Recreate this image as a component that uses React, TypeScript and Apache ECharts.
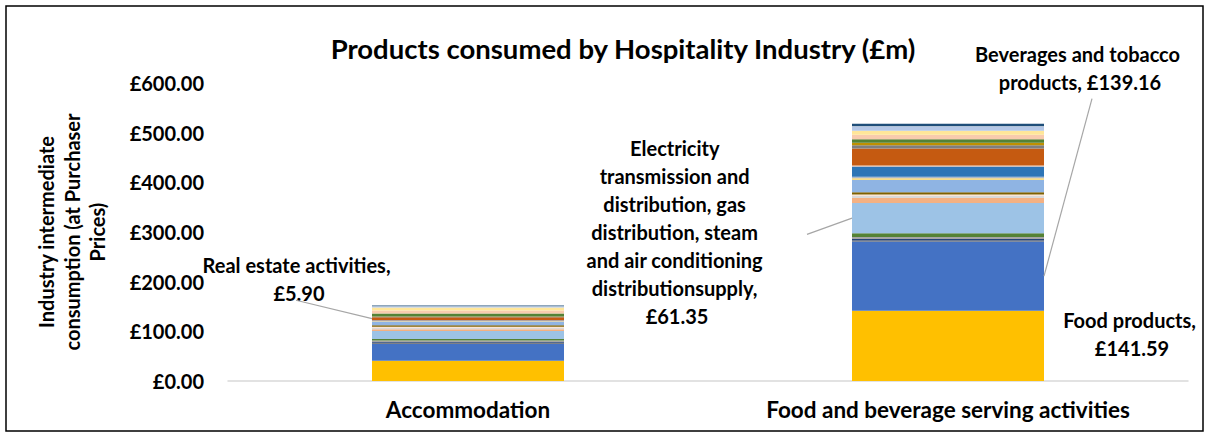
import React, { useEffect, useRef } from "react";
import * as echarts from "echarts";

const chartTitle = "Products consumed by Hospitality Industry (£m)";
const yAxisTitle = "Industry intermediate\nconsumption (at Purchaser\nPrices)";
const categories = ["Accommodation", "Food and beverage serving activities"];

const yMin = 0;
const yMax = 600;
const yInterval = 100;

// Products, listed from the bottom of the stack upwards
const productNames = [
  "Food products",
  "Beverages and tobacco products",
  "Paper and paper products",
  "Printing and recording services",
  "Chemicals and chemical products",
  "Other manufactured goods",
  "Electricity transmission and distribution, gas distribution, steam and air conditioning distributionsupply",
  "Water, sewerage and waste management services",
  "Construction",
  "Wholesale trade services",
  "Retail trade services",
  "Land transport services",
  "Warehousing and support services",
  "Telecommunications services",
  "Financial services",
  "Insurance services",
  "Real estate activities",
  "Legal and accounting services",
  "Advertising and market research services",
  "Rental and leasing services",
  "Employment services",
  "Security and investigation services",
  "Services to buildings and landscape",
  "Office administrative services",
  "Repair of computers and household goods",
];

const accommodationValues = [
  40.6, 34.4, 2, 1.5, 2.9, 3.2, 16, 3.4, 2.6, 2.6, 2.8, 6.8, 1, 1, 1.2, 0.5,
  5.9, 0.8, 0.6, 6, 6, 6, 2, 0.5, 1.5,
];

const foodServiceValues = [
  141.59, 139.16, 2, 3, 4, 7.5, 61.35, 10, 4, 3, 4.5, 25, 3, 3, 21, 2, 34, 6.6,
  4.8, 7, 9.4, 8, 8, 1, 5,
];

const productColors = [
  "#FFC000", "#4472C4", "#636363", "#264478", "#A5A5A5", "#548235", "#9DC3E6",
  "#F4B183", "#D9D9D9", "#FBE5D6", "#7F6000", "#8FB4E3", "#FFD966", "#ADB9CA",
  "#2E75B6", "#F8CBAD", "#C55A11", "#7F7F7F", "#BF9000", "#548235", "#F8CBAD",
  "#FFE699", "#B4C7E7", "#DAE3F3", "#1F4E79",
];

// Which data points carry a data label (product name + category index)
const labelledPoints = [
  { product: "Real estate activities", category: 0 },
  { product: "Electricity transmission and distribution, gas distribution, steam and air conditioning distributionsupply", category: 1 },
  { product: "Beverages and tobacco products", category: 1 },
  { product: "Food products", category: 1 },
];

// Layout of those labels relative to their bar segment (style, not data)
const labelPlacement: Record<string, any> = {
  "Real estate activities|0": {
    side: "left", dx: -73, dy: -38, width: 200, line: { fromX: -3, fromY: 21, to: "left" },
  },
  "Electricity transmission and distribution, gas distribution, steam and air conditioning distributionsupply|1": {
    side: "left", dx: -175, dy: -1, fromBottom: true, width: 200, line: { fromX: 130, fromY: 2, to: "left" },
  },
  "Beverages and tobacco products|1": {
    side: "right", dx: 36, dy: -174, width: 220, line: { fromX: 12, fromY: 31, to: "right" },
  },
  "Food products|1": { side: "right", dx: 88, dy: 23, width: 170, line: null },
};

const FONT = "Lato, 'Open Sans', sans-serif";
const BAR_FRACTION = 0.4;

function labelCenter(pl: any, r: { x: number; y: number; width: number; height: number }) {
  const x = pl.side === "left" ? r.x + pl.dx : r.x + r.width + pl.dx;
  const y = pl.fromBottom ? r.y + r.height + pl.dy : r.y + pl.dy;
  return [x, y];
}

export default function App() {
  const ref = useRef<HTMLDivElement>(null);

  useEffect(() => {
    document.body.style.margin = "0";
    if (!ref.current) return;
    const chart = echarts.init(ref.current, undefined, { renderer: "svg" });

    const series = productNames.map((name, si) => {
      const vals = [accommodationValues[si], foodServiceValues[si]];
      const data = vals.map((v, ci) => {
        const isLabelled = labelledPoints.some((p) => p.product === name && p.category === ci);
        if (!isLabelled) return v;
        const pl = labelPlacement[name + "|" + ci];
        return {
          value: v,
          label: {
            show: true,
            formatter: (p: any) => `${p.seriesName}, £${Number(p.value).toFixed(2)}`,
            color: "#000000",
            fontFamily: FONT,
            fontWeight: "bold",
            fontSize: 20,
            lineHeight: 28,
            width: pl.width,
            overflow: "break",
            align: "center",
          },
        };
      });
      return {
        name,
        type: "bar",
        stack: "total",
        barWidth: `${BAR_FRACTION * 100}%`,
        itemStyle: { color: productColors[si] },
        label: { show: false },
        labelLayout: (params: any) => {
          const pl = labelPlacement[name + "|" + params.dataIndex];
          if (!pl) return {};
          const [x, y] = labelCenter(pl, params.rect);
          return { x, y, align: "center", verticalAlign: "middle" };
        },
        emphasis: { disabled: true },
        data,
      };
    });

    const border = {
      id: "border",
      type: "rect",
      shape: { x: 6, y: 6, width: 1197, height: 425 },
      style: { fill: "none", stroke: "#000000", lineWidth: 1.5 },
      silent: true,
    };

    chart.setOption({
      animation: false,
      backgroundColor: "#ffffff",
      textStyle: { fontFamily: FONT },
      title: {
        text: chartTitle,
        left: 618,
        top: 29,
        textAlign: "center",
        textStyle: { fontFamily: FONT, fontWeight: "bold", fontSize: 27.5, color: "#000000" },
      },
      graphic: [border],
      grid: { left: 228, right: 21, top: 83, bottom: 56, containLabel: false },
      xAxis: {
        type: "category",
        data: categories,
        axisLine: { show: true, lineStyle: { color: "#D9D9D9", width: 1.5 } },
        axisTick: { show: false },
        axisLabel: {
          color: "#000000",
          fontFamily: FONT,
          fontWeight: "bold",
          fontSize: 22.5,
          margin: 17,
        },
      },
      yAxis: {
        type: "value",
        min: yMin,
        max: yMax,
        interval: yInterval,
        name: yAxisTitle,
        nameLocation: "middle",
        nameRotate: 90,
        nameGap: 118,
        nameTextStyle: {
          color: "#000000",
          fontFamily: FONT,
          fontWeight: "bold",
          fontSize: 20,
          lineHeight: 25.5,
          align: "center",
        },
        axisLine: { show: false },
        axisTick: { show: false },
        splitLine: { show: false },
        axisLabel: {
          color: "#000000",
          fontFamily: FONT,
          fontWeight: "bold",
          fontSize: 20,
          margin: 24,
          formatter: (v: number) => `£${v.toFixed(2)}`,
        },
      },
      series,
    });

    // Leader lines: from each label to the middle of its bar segment, via the chart's scales
    const valuesByCategory = [accommodationValues, foodServiceValues];
    const xA = chart.convertToPixel({ xAxisIndex: 0 }, 0) as number;
    const xB = chart.convertToPixel({ xAxisIndex: 0 }, 1) as number;
    const barW = (xB - xA) * BAR_FRACTION;
    const leaderLines: any[] = [];
    labelledPoints.forEach((p, i) => {
      const pl = labelPlacement[p.product + "|" + p.category];
      if (!pl || !pl.line) return;
      const si = productNames.indexOf(p.product);
      const vals = valuesByCategory[p.category];
      const base = vals.slice(0, si).reduce((a, b) => a + b, 0);
      const top = base + vals[si];
      const xc = chart.convertToPixel({ xAxisIndex: 0 }, p.category) as number;
      const yBottom = chart.convertToPixel({ yAxisIndex: 0 }, base) as number;
      const yTop = chart.convertToPixel({ yAxisIndex: 0 }, top) as number;
      const rect = { x: xc - barW / 2, y: yTop, width: barW, height: yBottom - yTop };
      const [lx, ly] = labelCenter(pl, rect);
      leaderLines.push({
        id: "leader" + i,
        type: "line",
        silent: true,
        z: 10,
        shape: {
          x1: lx + pl.line.fromX,
          y1: ly + pl.line.fromY,
          x2: pl.line.to === "left" ? rect.x : rect.x + rect.width,
          y2: (yTop + yBottom) / 2,
        },
        style: { stroke: "#A6A6A6", lineWidth: 1.2 },
      });
    });
    chart.setOption({ graphic: [border, ...leaderLines] });

    return () => chart.dispose();
  }, []);

  return <div ref={ref} style={{ width: 1209, height: 437 }} />;
}
